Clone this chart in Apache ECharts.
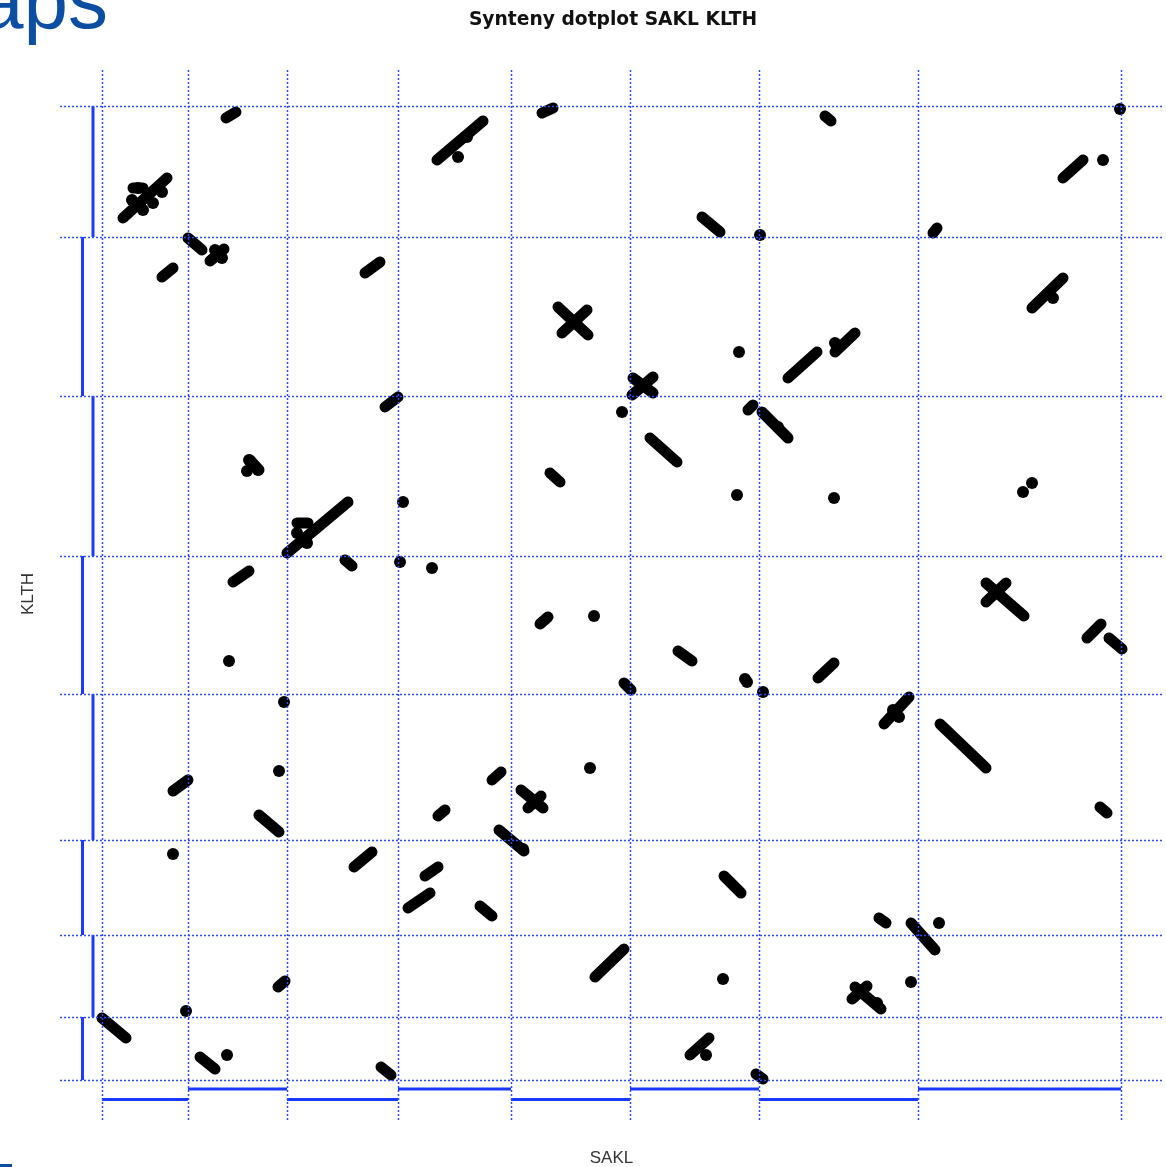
<!DOCTYPE html>
<html>
<head>
<meta charset="utf-8">
<script src="https://cdn.jsdelivr.net/npm/echarts@6/dist/echarts.min.js"></script>
<style>html,body{margin:0;padding:0;background:#fff;overflow:hidden}#c{width:1166px;height:1167px}</style>
</head>
<body>
<div id="c"></div>
<script>
// Chromosome boundaries (genome positions, arbitrary units)
const saklBounds = [0, 86, 185, 296, 409, 528, 657, 816, 1019];
const klthBounds = [0, 63, 145, 240, 386, 524, 684, 843, 974];

// Synteny segments: [saklStart, klthStart, saklEnd, klthEnd]
const segments = [
  [21,862,65,902],[31,892,41,892],[124,962,134,968],[335,920,381,959],
  [440,967,451,972],[723,964,729,959],[600,863,618,848],[961,902,981,920],
  [831,847,835,852],[86,842,100,830],[108,819,122,831],[60,803,71,812],
  [263,807,278,818],[456,773,486,745],[460,747,485,770],[686,702,715,728],
  [733,728,753,747],[930,772,961,802],[283,673,296,683],[531,702,551,687],
  [530,685,551,703],[548,642,575,618],[646,670,651,675],[660,668,686,642],
  [148,620,157,610],[448,607,458,598],[185,527,246,578],[195,557,206,557],
  [243,520,250,514],[131,498,147,509],[438,456,446,463],[576,429,590,419],
  [522,397,529,390],[716,402,732,417],[884,497,922,464],[904,497,884,478],
  [985,442,999,456],[1007,442,1020,431],[71,289,86,300],[157,265,177,248],
  [390,300,399,308],[419,290,441,272],[426,272,439,284],[397,250,422,229],
  [782,356,807,383],[838,356,884,312],[998,273,1005,267],[336,264,343,270],
  [252,213,270,228],[323,204,336,213],[306,172,328,187],[378,174,390,164],
  [622,204,639,187],[777,162,784,157],[809,157,833,130],[176,93,183,99],
  [493,103,522,131],[753,93,779,71],[750,81,765,94],[0,62,24,42],
  [98,23,113,11],[279,13,289,5],[588,25,607,42],[654,6,661,1]
];

// Isolated anchor points: [sakl, klth]
const dots = [
  [36,892],[30,880],[41,870],[60,888],[51,877],[356,923],[365,943],
  [120,822],[113,830],[147,620],[145,609],[156,610],[195,547],[205,537],
  [301,578],[298,518],[330,512],[658,845],[637,728],[520,668],[676,653],
  [635,585],[732,582],[1001,920],[1018,971],[951,782],[921,588],[930,597],
  [733,737],[127,419],[182,378],[177,309],[71,226],[84,69],[125,25],
  [492,464],[645,398],[643,401],[661,388],[488,312],[421,231],[621,101],
  [604,25],[791,370],[797,363],[837,157],[809,98],[775,77]
];

const X_MIN = -42, X_MAX = 1061, Y_MIN = -40, Y_MAX = 1012;
const BLUE = '#1a38ff';
const GRID_BLUE = '#2a4cff';

const chart = echarts.init(document.getElementById('c'));

function segItem(params, api) {
  const p1 = api.coord([api.value(0), api.value(1)]);
  const p2 = api.coord([api.value(2), api.value(3)]);
  return {type: 'line', shape: {x1: p1[0], y1: p1[1], x2: p2[0], y2: p2[1]},
    style: {stroke: '#000', lineWidth: 11, lineCap: 'round'}};
}

const saklBars = saklBounds.slice(0, -1).map((b, i) => [b, saklBounds[i + 1], i]);
const klthBars = klthBounds.slice(0, -1).map((b, i) => [b, klthBounds[i + 1], i]);

chart.setOption({
  animation: false,
  backgroundColor: '#fff',
  title: {
    text: 'Synteny dotplot SAKL KLTH',
    left: 608, top: 6, textAlign: 'center',
    textStyle: {fontFamily: 'DejaVu Sans', fontWeight: 'bold', fontSize: 18.7, color: '#111'}
  },
  graphic: [
    {type: 'text', x: 108, y: -34, z: 100,
      style: {text: 'aps', font: '80px "Liberation Sans"', fill: '#0b4ea2',
        textAlign: 'right', textVerticalAlign: 'top'}},
    {type: 'rect', shape: {x: 0, y: 1164, width: 12, height: 3}, style: {fill: '#0b4ea2'}}
  ],
  grid: {left: 60, right: 3, top: 68, bottom: 47, containLabel: false, outerBoundsMode: 'none'},
  xAxis: {
    type: 'value', min: X_MIN, max: X_MAX,
    name: 'SAKL', nameLocation: 'middle', nameGap: 30,
    nameTextStyle: {fontFamily: 'Liberation Sans', fontSize: 17, color: '#333'},
    axisLine: {show: false}, axisTick: {show: false}, axisLabel: {show: false}, splitLine: {show: false}
  },
  yAxis: {
    type: 'value', min: Y_MIN, max: Y_MAX,
    name: 'KLTH', nameLocation: 'middle', nameGap: 23,
    nameTextStyle: {fontFamily: 'Liberation Sans', fontSize: 17, color: '#333'},
    axisLine: {show: false}, axisTick: {show: false}, axisLabel: {show: false}, splitLine: {show: false}
  },
  series: [
    {
      type: 'custom', name: 'segments', data: segments, clip: false, z: 2,
      encode: {x: [0, 2], y: [1, 3]},
      renderItem: segItem
    },
    {
      type: 'scatter', name: 'anchors', data: dots, symbol: 'circle', symbolSize: 12,
      itemStyle: {color: '#000', opacity: 1}, z: 3
    },
    {
      type: 'custom', name: 'saklBars', data: saklBars, clip: false, z: 4,
      encode: {x: [0, 1]},
      renderItem: function (params, api) {
        const yv = api.value(2) % 2 === 0 ? -19.5 : -9;
        const p1 = api.coord([api.value(0), yv]);
        const p2 = api.coord([api.value(1), yv]);
        return {type: 'line', shape: {x1: p1[0], y1: p1[1], x2: p2[0], y2: p2[1]},
          style: {stroke: BLUE, lineWidth: 3}};
      }
    },
    {
      type: 'custom', name: 'klthBars', data: klthBars, clip: false, z: 4,
      encode: {y: [0, 1]},
      renderItem: function (params, api) {
        const xv = api.value(2) % 2 === 0 ? -19.5 : -9;
        const p1 = api.coord([xv, api.value(0)]);
        const p2 = api.coord([xv, api.value(1)]);
        return {type: 'line', shape: {x1: p1[0], y1: p1[1], x2: p2[0], y2: p2[1]},
          style: {stroke: BLUE, lineWidth: 3}};
      }
    },
    {
      type: 'custom', name: 'saklGrid', data: saklBounds.map(b => [b]), clip: false, z: 5,
      encode: {x: 0},
      renderItem: function (params, api) {
        const p1 = api.coord([api.value(0), Y_MIN]);
        const p2 = api.coord([api.value(0), Y_MAX]);
        const x = Math.round(p1[0]) + 0.5;
        return {type: 'line', shape: {x1: x, y1: p1[1], x2: x, y2: p2[1]},
          style: {stroke: GRID_BLUE, lineWidth: 1.5, lineDash: [2, 2]}};
      }
    },
    {
      type: 'custom', name: 'klthGrid', data: klthBounds.map(b => [b]), clip: false, z: 5,
      encode: {y: 0},
      renderItem: function (params, api) {
        const p1 = api.coord([X_MIN, api.value(0)]);
        const p2 = api.coord([X_MAX, api.value(0)]);
        const y = Math.round(p1[1]) + 0.5;
        return {type: 'line', shape: {x1: p1[0], y1: y, x2: p2[0], y2: y},
          style: {stroke: GRID_BLUE, lineWidth: 1.5, lineDash: [2, 2]}};
      }
    }
  ]
});
</script>
</body>
</html>
